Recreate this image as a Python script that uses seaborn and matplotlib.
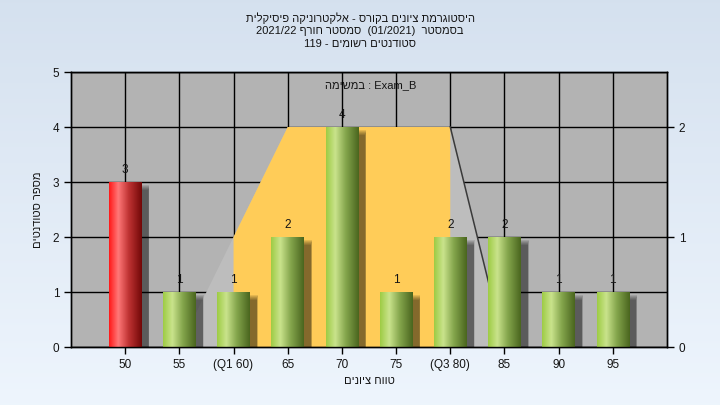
import numpy as np
import pandas as pd
import matplotlib
matplotlib.use("Agg")
import matplotlib.pyplot as plt
from matplotlib.patches import Rectangle
import seaborn as sns

# data
grades = ["50", "55", "(Q1 60)", "65", "70", "75", "(Q3 80)", "85", "90", "95"]
counts = [3, 1, 1, 2, 4, 1, 2, 2, 1, 1]
failing = ["50"]
spread_x = [1, 3, 6, 7]     # category positions of the spread shape
spread_y = [0, 4, 4, 0]

title_lines = [
    "היסטוגרמת ציונים בקורס - אלקטרוניקה פיסיקלית",
    "בסמסטר  (01/2021)  סמסטר חורף 2021/22",
    "סטודנטים רשומים - 119",
]
exam_word = "במשימה"
exam_name = "Exam_B"
x_title = "טווח ציונים"
y_title = "מספר סטודנטים"

plt.rcParams["font.family"] = ["Liberation Sans", "DejaVu Sans"]
TXT = "#141414"
FS = 8


def is_heb(tok):
    return any("\u0590" <= c <= "\u05ff" for c in tok)


def rtl(s):
    # matplotlib lays glyphs left to right, so put hebrew in visual order
    return " ".join(t[::-1] if is_heb(t) else t for t in reversed(s.split(" ")))


fig = plt.figure(figsize=(7.2, 4.05), dpi=100)

# background gradient
bg = fig.add_axes([0, 0, 1, 1], zorder=-10)
top = np.array([0.835, 0.882, 0.937])
bot = np.array([0.933, 0.961, 0.992])
t = np.linspace(0, 1, 256)[:, None, None]
bg.imshow(top + (bot - top) * t, aspect="auto", extent=[0, 1, 0, 1])
bg.axis("off")

ax = fig.add_axes([0.0986, 0.1432, 0.8278, 0.679])
ax.set_facecolor("#b3b3b3")

df = pd.DataFrame({"grade": grades, "count": counts})
df["status"] = ["fail" if g in failing else "pass" for g in grades]
sns.barplot(data=df, x="grade", y="count", hue="status", order=grades,
            palette={"fail": "#e02020", "pass": "#90b848"}, width=0.6,
            dodge=False, legend=False, ax=ax, zorder=3)
bars = [p for p in ax.patches if p.get_height() > 0]

# spread shape behind the bars
ax.fill(spread_x, spread_y, color="#bdbdbd", lw=0, zorder=1.5)
q1 = grades.index("(Q1 60)")
q3 = grades.index("(Q3 80)")
ox = [q1, q1] + [x for x in spread_x if q1 < x < q3] + [q3, q3]
oy = [0, np.interp(q1, spread_x, spread_y)] + \
     [y for x, y in zip(spread_x, spread_y) if q1 < x < q3] + \
     [np.interp(q3, spread_x, spread_y), 0]
ax.fill(ox, oy, color="#ffcc58", lw=0, zorder=1.6)
ax.plot(spread_x[2:], spread_y[2:], color="#3a3a3a", lw=1.1, zorder=1.7)

# cylinder look for the bars
def ramp(stops, n=64):
    pos = [s[0] for s in stops]
    arr = np.zeros((1, n, 3))
    xs = np.linspace(0, 1, n)
    for k in range(3):
        arr[0, :, k] = np.interp(xs, pos, [s[1][k] for s in stops])
    return arr

green = ramp([(0, (0.62, 0.80, 0.27)), (0.28, (0.79, 0.89, 0.55)),
              (0.6, (0.52, 0.65, 0.30)), (1, (0.29, 0.40, 0.12))])
red = ramp([(0, (1.0, 0.10, 0.10)), (0.28, (1.0, 0.47, 0.47)),
            (0.6, (0.75, 0.20, 0.20)), (1, (0.45, 0.03, 0.03))])

px = 1 / 54.2
py = 1 / 55.0
for p in bars:
    x0, w, h = p.get_x(), p.get_width(), p.get_height()
    idx = int(round(x0 + w / 2))
    for k in range(6):
        ax.add_patch(Rectangle((x0 + (7 - k) * px, 0), w + 2 * k * px * 0.6,
                               h - (8 - k) * py, color="black", alpha=0.1,
                               lw=0, zorder=2.5))
    img = red if grades[idx] in failing else green
    ax.imshow(img, extent=[x0, x0 + w, 0, h], aspect="auto",
              interpolation="bilinear", zorder=3.5)
    p.set_facecolor("none")
    p.set_edgecolor("none")

for i, c in enumerate(counts):
    ax.annotate(str(c), (i, c), xytext=(0, 4), textcoords="offset points",
                ha="center", va="bottom", fontsize=FS + 0.5, color=TXT, zorder=5)

ax.set_xlim(-1, 10)
ax.set_ylim(0, 5)
ax.set_yticks(range(6))
ax.set_axisbelow(True)
ax.grid(True, color="black", lw=1)
ax.tick_params(direction="out", length=5, width=1, color="black",
               labelsize=FS + 0.5, labelcolor=TXT)
for s in ax.spines.values():
    s.set_color("black")
    s.set_linewidth(1)
ax.set_xlabel(rtl(x_title), fontsize=FS, color=TXT, labelpad=4)
ax.set_ylabel(rtl(y_title), fontsize=FS, color=TXT, labelpad=7)

ax2 = ax.twinx()
ax2.set_ylim(0, 2.5)
ax2.set_yticks([0, 1, 2])
ax2.tick_params(direction="out", length=5, width=1, color="black",
                labelsize=FS + 0.5, labelcolor=TXT)
for s in ax2.spines.values():
    s.set_color("black")
    s.set_linewidth(1)

ax.text(0.502, 0.953, exam_word[::-1] + " : " + exam_name, transform=ax.transAxes,
        ha="center", va="center", fontsize=FS, color=TXT, zorder=6)

for k, line in enumerate(title_lines):
    fig.text(0.5, 1 - (18 + 13 * k) / 405, rtl(line), ha="center", va="center",
             fontsize=FS, color=TXT)

fig.savefig("out.png", dpi=100)
